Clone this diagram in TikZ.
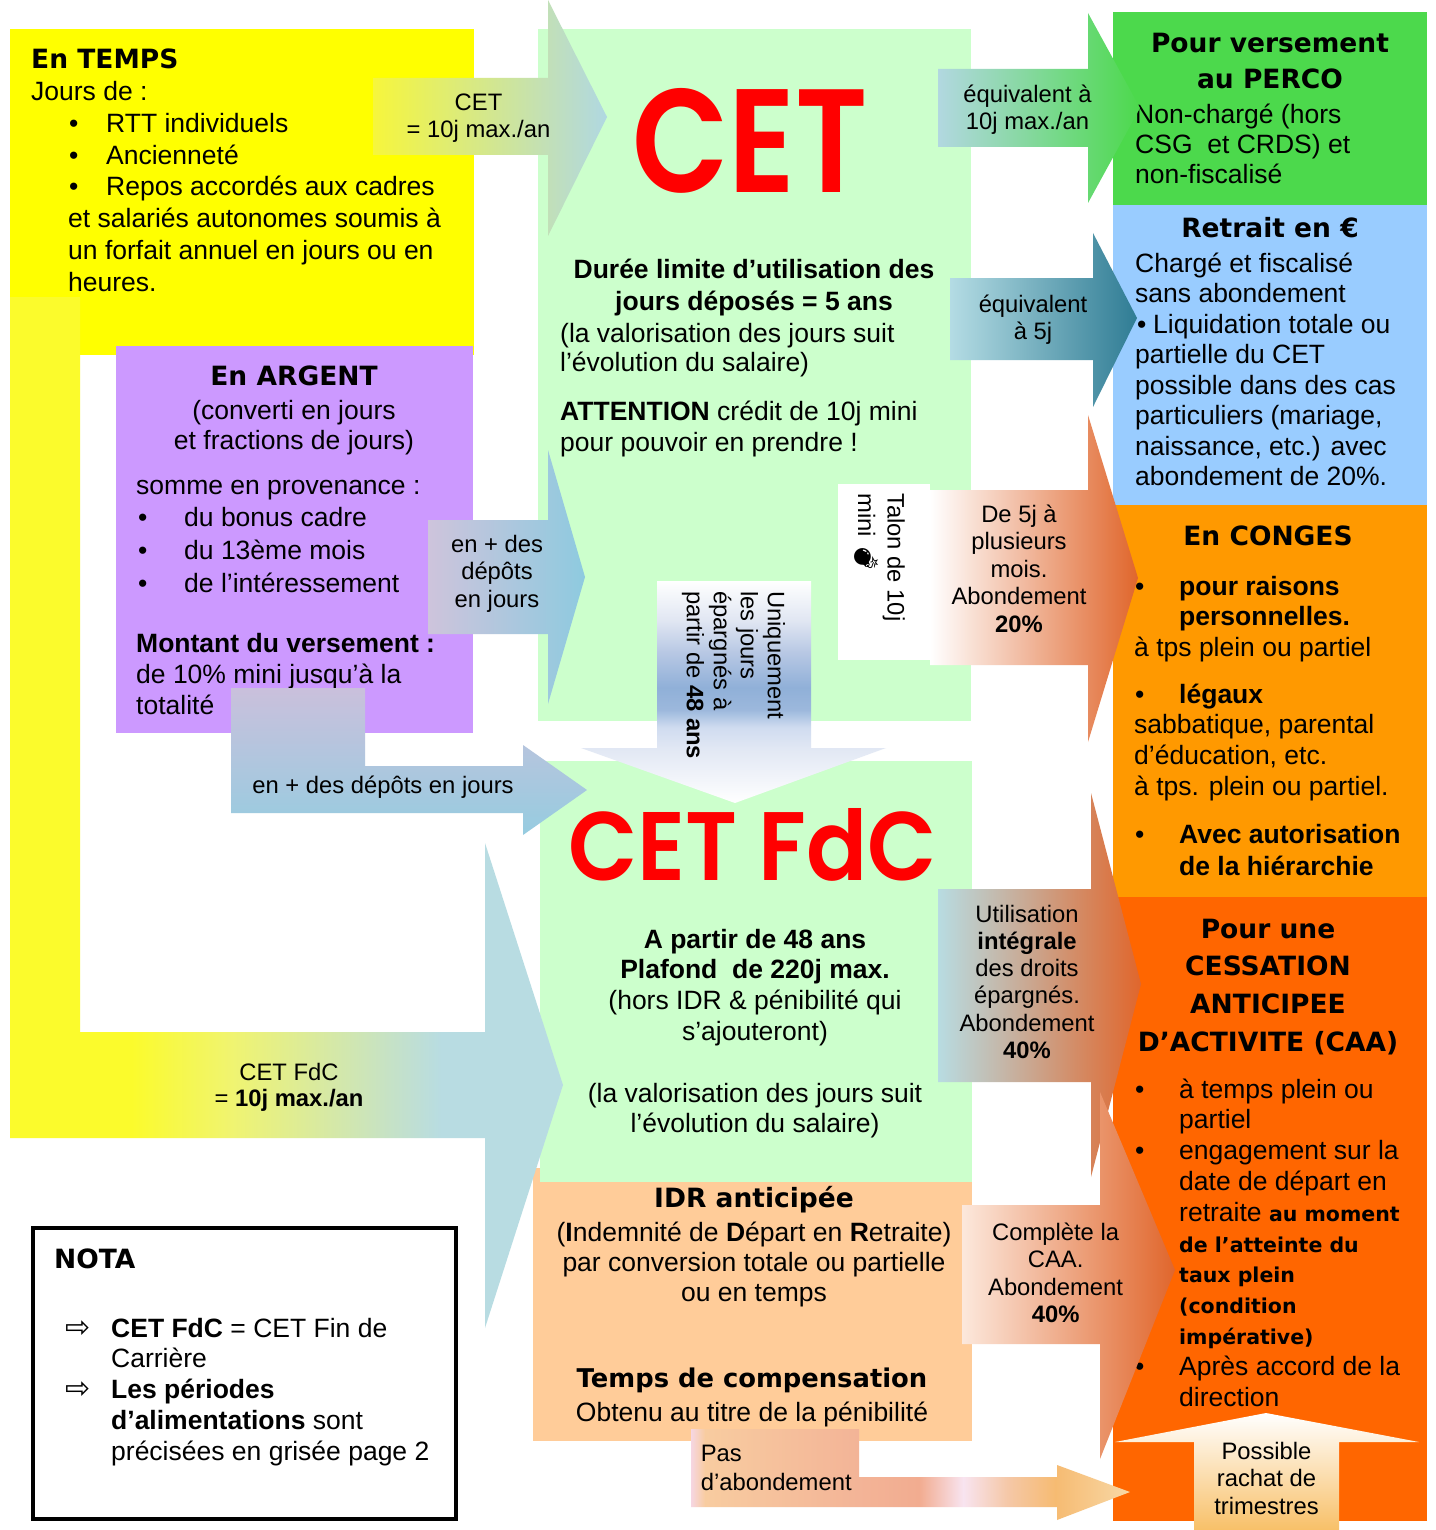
\documentclass[tikz,border=0pt]{standalone}
\usepackage{fontspec}
\usepackage{graphicx}
\setmainfont{Liberation Sans}
\newfontfamily\dejavu{DejaVu Sans}
\newfontfamily\cetfont{Poppins}[UprightFont=* SemiBold]
\newfontfamily\emojifont{Noto Emoji}
\newcommand\blk{\dejavu\bfseries}
\newcommand\blksm{\blk\fontsize{20.5}{30.8}\selectfont}
\newcommand\bdot{•}
\newcommand\bul{\makebox[75pt][l]{\hspace*{38pt}\bdot}}
\newcommand\bulp{\makebox[48pt][l]{\hspace*{2pt}\bdot}}
\newcommand\bulc{\makebox[45pt][l]{\hspace*{1pt}\bdot}}
\newcommand\ind{\hspace*{45pt}}
\newcommand\arr{\makebox[46pt][l]{\dejavu\fontsize{30}{20}\selectfont ⇨}}
\definecolor{cYel}{HTML}{FFFF00}
\definecolor{cGrn}{HTML}{CCFFCC}
\definecolor{cPur}{HTML}{CC99FF}
\definecolor{cPerco}{HTML}{4CD94C}
\definecolor{cBlu}{HTML}{99CCFF}
\definecolor{cOra}{HTML}{FF9900}
\definecolor{cCaa}{HTML}{FF6600}
\definecolor{cPea}{HTML}{FFCC99}
\definecolor{cRed}{HTML}{FF0000}
\definecolor{cLb}{HTML}{B8DCE2}
\definecolor{cBrn}{HTML}{E0662C}
\definecolor{a1L}{HTML}{F6F63C}
\definecolor{a1R}{HTML}{B0D8E2}
\definecolor{a2L}{HTML}{CEC4DC}
\definecolor{a2R}{HTML}{8ECADF}
\definecolor{a3T}{HTML}{CAC0DC}
\definecolor{a3B}{HTML}{96CCE0}
\definecolor{a7L}{HTML}{B2D8E0}
\definecolor{a8L}{HTML}{B4DCE4}
\definecolor{a8R}{HTML}{2F7C94}
\definecolor{a10L}{HTML}{FCE8DC}
\definecolor{a12B}{HTML}{F8C068}
\definecolor{yl1}{HTML}{FBFB2C}
\definecolor{yl3}{HTML}{F0F470}
\definecolor{p1}{HTML}{F6D6E2}
\definecolor{p2}{HTML}{F8CCA0}
\definecolor{p3}{HTML}{F3B497}
\definecolor{p4}{HTML}{F2AC90}
\definecolor{p5}{HTML}{F8E4F0}
\definecolor{p6}{HTML}{F5C8A8}
\definecolor{p7}{HTML}{F6BB72}
\definecolor{p8}{HTML}{F8D8A6}
\definecolor{d1}{HTML}{E2E8F4}
\definecolor{d2}{HTML}{D0DCF0}
\definecolor{d3}{HTML}{9CB8DC}
\definecolor{d4}{HTML}{90B0D8}
\definecolor{d5}{HTML}{B8C8E4}
\definecolor{d6}{HTML}{E0E6F2}
\pgfdeclarehorizontalshading{shYL}{100bp}{color(0bp)=(yl1); color(36bp)=(yl1); color(45bp)=(yl3); color(64bp)=(cLb); color(100bp)=(cLb)}
\pgfdeclarehorizontalshading{shPas}{100bp}{color(0bp)=(p1); color(25bp)=(p1); color(26.6bp)=(p2); color(44bp)=(p3); color(51bp)=(p4); color(56bp)=(p5); color(61bp)=(p6); color(66.5bp)=(p7); color(75bp)=(p8); color(100bp)=(p8)}
\pgfdeclareverticalshading{shDown}{100bp}{color(0bp)=(white); color(25bp)=(white); color(37bp)=(d1); color(42bp)=(d2); color(46bp)=(d3); color(51bp)=(d4); color(59bp)=(d5); color(66bp)=(d6); color(75bp)=(white); color(100bp)=(white)}
\tikzset{
  fs/.style 2 args={font=\fontsize{#1}{#2}\selectfont},
  hdfs/.style 2 args={font=\blk\fontsize{#1}{#2}\selectfont},
  tx/.style={inner sep=0pt, align=left},
  tc/.style={inner sep=0pt, align=center},
  hd/.style={inner sep=0pt, align=center, font=\blk\fontsize{26.5}{37}\selectfont},
  sm/.style={inner sep=0pt, align=center, font=\fontsize{23.8}{27.5}\selectfont},
  big/.style={inner sep=0pt, anchor=base west, text=cRed},
}
\begin{document}
\begin{tikzpicture}[x=1pt,y=-1pt]
\useasboundingbox (0,0) rectangle (1435,1530);
\fill[white] (0,0) rectangle (1435,1530);
% ---------- boxes
\fill[cYel] (10,29) rectangle (474,355);
\fill[cPur] (116,346) rectangle (473,733);
\fill[cGrn] (538,29) rectangle (971,721);
\fill[cPea] (533,1168) rectangle (972,1441);
\fill[cGrn] (540,761) rectangle (972,1182);
\fill[cPerco] (1113,12) rectangle (1427,205);
\fill[cBlu] (1113,205) rectangle (1427,505);
\fill[cOra] (1113,505) rectangle (1427,897);
\fill[cCaa] (1113,897) rectangle (1427,1521);
\draw[line width=3.5pt, fill=white] (33,1228) rectangle (456,1519);
\fill[white] (838,484) rectangle (930,660);
% ---------- box texts
\node[tx, fs={26.5}{31.8}, anchor=north west] (temps) at (31,46.2) {\strut{\blk En TEMPS}\\Jours de :\\\bul RTT individuels\\\bul Ancienneté\\\bul Repos accordés aux cadres\\\hspace*{37pt}et salariés autonomes soumis à\\\hspace*{37pt}un forfait annuel en jours ou en\\\hspace*{37pt}heures.};
\node[hd, anchor=base] (argH) at (294,385) {En ARGENT};
\node[tc, fs={26.5}{30}, anchor=north] (argS) at (294,398) {\strut(converti en jours\\et fractions de jours)};
\node[tx, fs={26.5}{32.7}, anchor=north west] (argL) at (136,471.1) {\strut somme en provenance :\\\bulp du bonus cadre\\\bulp du 13ème mois\\\bulp de l’intéressement};
\node[tx, fs={26.5}{31}, anchor=north west] (argM) at (136,630.3) {\strut\textbf{Montant du versement :}\\de 10\% mini jusqu’à la\\totalité};
\node[big] (cetBig) at (632,193) {\resizebox{236pt}{104pt}{\cetfont CET}};
\node[tc, font=\bfseries\fontsize{26.5}{32}\selectfont, anchor=north] (cetA) at (754,255.6) {\strut Durée limite d’utilisation des\\jours déposés = 5 ans};
\node[tx, fs={26.5}{29.5}, anchor=north west] (cetB) at (560,321.35) {\strut(la valorisation des jours suit\\l’évolution du salaire)};
\node[tx, fs={26.5}{31}, anchor=north west] (cetC) at (560,398.3) {\strut\textbf{ATTENTION} crédit de 10j mini\\pour pouvoir en prendre !};
\node[big] (fdcBig) at (568,880) {\resizebox{369pt}{72pt}{\cetfont CET FdC}};
\node[tc, fs={26.5}{30.7}, anchor=north] (fdcA) at (755,926.5) {\strut\textbf{A partir de 48 ans}\\\textbf{Plafond~ de 220j max.}\\(hors IDR \& pénibilité qui\\s’ajouteront)};
\node[tc, fs={26.5}{30.4}, anchor=north] (fdcB) at (755,1080.7) {\strut(la valorisation des jours suit\\l’évolution du salaire)};
\node[hd, anchor=base] (idrH) at (754,1207) {IDR anticipée};
\node[tc, fs={26.5}{30.3}, anchor=north] (idrT) at (754,1219.8) {\strut(\textbf{I}ndemnité de \textbf{D}épart en \textbf{R}etraite)\\par conversion totale ou partielle\\ou en temps};
\node[hd, hdfs={25.8}{37}, anchor=base] (compH) at (752,1387) {Temps de compensation};
\node[tx, fs={26.5}{31}, anchor=base] (compT) at (752,1421) {Obtenu au titre de la pénibilité};
\node[hd, hdfs={26.5}{36.5}, anchor=north] (percoH) at (1270,26.45) {\strut Pour versement\\au PERCO};
\node[tx, fs={26.5}{30}, anchor=north west] (percoT) at (1135,102) {\strut Non-chargé (hors\\CSG~ et CRDS) et\\non-fiscalisé};
\node[hd, anchor=base] (retH) at (1270,238) {Retrait en €};
\node[tx, fs={26.5}{30.5}, anchor=north west] (retT) at (1135,250.65) {\strut Chargé et fiscalisé\\sans abondement\\\makebox[18pt][l]{\hspace*{2pt}\bdot}Liquidation totale ou\\partielle du CET\\possible dans des cas\\particuliers (mariage,\\naissance, etc.) avec\\abondement de 20\%.};
\node[hd, anchor=base] (conH) at (1268,545) {En CONGES};
\node[tx, fs={26.5}{30.5}, anchor=north west] (conA) at (1134,573.65) {\strut\bulc\textbf{pour raisons}\\\ind\textbf{personnelles.}\\à tps plein ou partiel};
\node[tx, fs={26.5}{30.7}, anchor=north west] (conB) at (1134,681.5) {\strut\bulc\textbf{légaux}\\sabbatique, parental\\d’éducation, etc.\\à tps. plein ou partiel.};
\node[tx, fs={26.5}{32}, anchor=north west] (conC) at (1134,820.6) {\strut\bulc\textbf{Avec autorisation}\\\ind\textbf{de la hiérarchie}};
\node[hd, hdfs={26.5}{37.6}, anchor=north] (caaH) at (1268,911.7) {\strut Pour une\\CESSATION\\ANTICIPEE\\D’ACTIVITE (CAA)};
\node[tx, fs={26.5}{30.8}, anchor=north west] (caaT) at (1134,1076.4) {\strut\bulc à temps plein ou\\\ind partiel\\\bulc engagement sur la\\\ind date de départ en\\\ind retraite {\blksm au moment}\\\ind{\blksm de l’atteinte du}\\\ind{\blksm taux plein}\\\ind{\blksm (condition}\\\ind{\blksm impérative)}\\\bulc Après accord de la\\\ind direction};
\node[hd, anchor=base west] (notaH) at (54,1268) {NOTA};
\node[tx, fs={26.5}{30.8}, anchor=north west] (notaT) at (65,1315.4) {\strut\arr\textbf{CET FdC} = CET Fin de\\\hspace*{46pt}Carrière\\\arr\textbf{Les périodes}\\\hspace*{46pt}\textbf{d’alimentations} sont\\\hspace*{46pt}précisées en grisée page 2};
% ---------- arrows
\shade[left color=a1L, right color=a1R] (373,78) -- (548,78) -- (548,0) -- (607,117) -- (548,236) -- (548,155) -- (373,155) -- cycle;
\shade[left color=a2L, right color=a2R] (428,520) -- (548,520) -- (548,450) -- (585,577) -- (548,704) -- (548,634) -- (428,634) -- cycle;
\shade[top color=a3T, bottom color=a3B] (231,688) -- (365,688) -- (365,766) -- (523,766) -- (523,745) -- (587,790) -- (523,835) -- (523,813) -- (231,813) -- cycle;
\shade[shading=shYL] (10,297) -- (80,297) -- (80,1032) -- (485,1032) -- (485,843) -- (563,1085) -- (485,1328) -- (485,1138) -- (10,1138) -- cycle;
\shade[shading=shDown] (657,581) -- (811,581) -- (811,748) -- (886,748) -- (735,803) -- (581,748) -- (657,748) -- cycle;
\shade[left color=white, right color=cBrn] (930,490) -- (1088,490) -- (1088,415) -- (1138,578) -- (1088,742) -- (1088,665) -- (930,665) -- cycle;
\shade[left color=a7L, right color=cPerco] (938,69) -- (1088,69) -- (1088,13) -- (1140,108) -- (1088,203) -- (1088,147) -- (938,147) -- cycle;
\shade[left color=a8L, right color=a8R] (950,278) -- (1093,278) -- (1093,233) -- (1137,318) -- (1093,407) -- (1093,360) -- (950,360) -- cycle;
\shade[left color=cLb, right color=cBrn] (938,889) -- (1091,889) -- (1091,793) -- (1141,984) -- (1091,1177) -- (1091,1082) -- (938,1082) -- cycle;
\shade[left color=a10L, right color=cBrn] (962,1205) -- (1100,1205) -- (1100,1092) -- (1175,1270) -- (1100,1459) -- (1100,1344) -- (962,1344) -- cycle;
\shade[shading=shPas] (691,1429) -- (859,1429) -- (859,1477) -- (1057,1477) -- (1057,1465) -- (1130,1492) -- (1057,1520) -- (1057,1507) -- (691,1507) -- cycle;
\shade[top color=white, bottom color=a12B] (1194,1530) -- (1194,1442) -- (1115,1442) -- (1266,1413) -- (1419,1442) -- (1339,1442) -- (1339,1530) -- cycle;
% ---------- arrow texts
\node[sm, anchor=north] (a1t) at (478.5,90.75) {\strut CET\\= 10j max./an};
\node[sm, anchor=north] (a7t) at (1027.5,82.75) {\strut équivalent à\\10j max./an};
\node[sm, anchor=north] (a8t) at (1033,292.75) {\strut équivalent\\à 5j};
\node[sm, anchor=north] (a2t) at (497,532.75) {\strut en + des\\dépôts\\en jours};
\node[sm, anchor=base] (a3t) at (383,793) {en + des dépôts en jours};
\node[sm, anchor=north] (a6t) at (1019,502.75) {\strut De 5j à\\plusieurs\\mois.\\Abondement\\\textbf{20\%}};
\node[sm, fs={23.8}{27.2}, anchor=north] (a9t) at (1027,902.96) {\strut Utilisation\\\textbf{intégrale}\\des droits\\épargnés.\\Abondement\\\textbf{40\%}};
\node[sm, anchor=north] (a10t) at (1055.6,1220.75) {\strut Complète la\\CAA.\\Abondement\\\textbf{40\%}};
\node[sm, fs={23.8}{26}, anchor=north] (a4t) at (289,1061.8) {\strut CET FdC\\= \textbf{10j max./an}};
\node[sm, fs={23.8}{29}, align=left, anchor=north west] (a11t) at (700.6,1440.7) {\strut Pas\\d’abondement};
\node[sm, anchor=north] (a12t) at (1266.5,1439.75) {\strut Possible\\rachat de\\trimestres};
\node[sm, fs={23.8}{27}, align=left, rotate=-90, anchor=north west] (uniq) at (787,591) {\strut Uniquement\\les jours\\épargnés à\\partir de \textbf{48 ans}};
\node[sm, align=left, rotate=-90, anchor=north west] (talon) at (907,493) {\strut Talon de 10j\\mini {\emojifont 💣}};
\end{tikzpicture}
\end{document}
